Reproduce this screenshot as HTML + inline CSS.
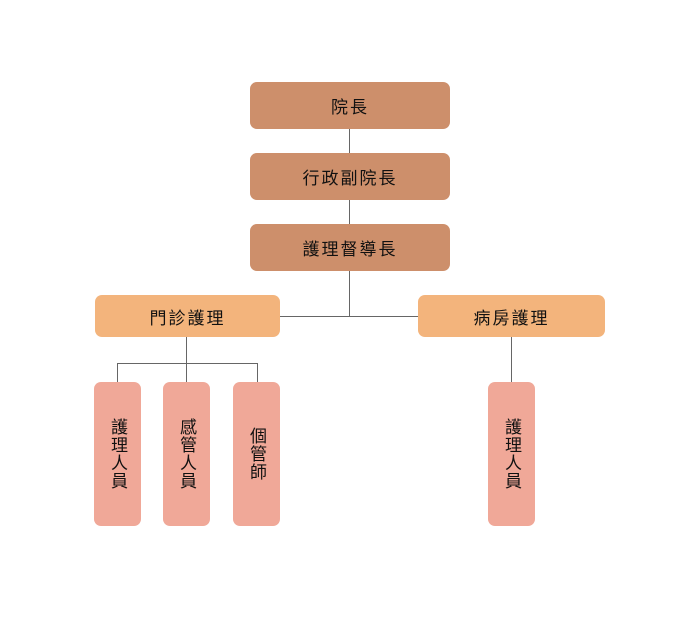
<!DOCTYPE html>
<html><head><meta charset="utf-8"><style>
body{margin:0;width:700px;height:621px;background:#fff;position:relative;font-family:"Liberation Sans","Noto Sans CJK TC",sans-serif;overflow:hidden}
.b{position:absolute;border-radius:7px;display:flex;align-items:center;justify-content:center;color:#111;font-size:17px}
.t{background:#cd8f6b;left:250px;width:200px;height:47px;letter-spacing:2px}
.o{background:#f3b47c;top:295px;height:42px;letter-spacing:2px}
.p{background:#f0a898;top:382px;width:47px;height:144px;writing-mode:vertical-rl;letter-spacing:1px;line-height:1}
.l{position:absolute;background:#666}
</style></head><body>
<div class="l" style="left:349px;top:129px;width:1px;height:187px"></div>
<div class="l" style="left:280px;top:316px;width:138px;height:1px"></div>
<div class="l" style="left:186px;top:337px;width:1px;height:45px"></div>
<div class="l" style="left:117px;top:363px;width:141px;height:1px"></div>
<div class="l" style="left:117px;top:363px;width:1px;height:19px"></div>
<div class="l" style="left:257px;top:363px;width:1px;height:19px"></div>
<div class="l" style="left:511px;top:337px;width:1px;height:45px"></div>
<div class="b t" style="top:82px">院長</div>
<div class="b t" style="top:153px">行政副院長</div>
<div class="b t" style="top:224px">護理督導長</div>
<div class="b o" style="left:95px;width:185px">門診護理</div>
<div class="b o" style="left:418px;width:187px">病房護理</div>
<div class="b p" style="left:94px">護理人員</div>
<div class="b p" style="left:163px">感管人員</div>
<div class="b p" style="left:233px">個管師</div>
<div class="b p" style="left:488px">護理人員</div>
</body></html>
